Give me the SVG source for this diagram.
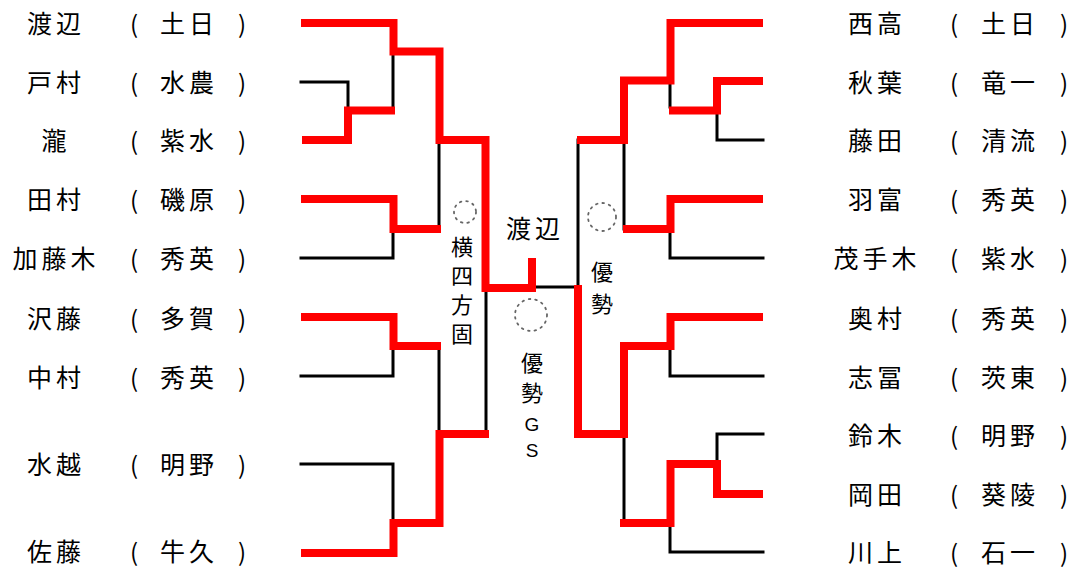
<svg xmlns="http://www.w3.org/2000/svg" width="1077" height="574" viewBox="0 0 1077 574">
<style>
.t{font-family:"Noto Sans CJK JP","Noto Sans",sans-serif;fill:#000;text-anchor:middle;dominant-baseline:central}
.nm{font-size:25px;letter-spacing:4px}
.p{font-size:24px}
.v{font-size:22px}
.v2{font-size:22px}
.lat{font-family:"Liberation Sans",Arial,sans-serif;font-size:19px;fill:#000;text-anchor:middle;dominant-baseline:central}
.r{fill:none;stroke:#ff0000;stroke-width:8;stroke-linejoin:miter;stroke-linecap:butt}
.b{fill:none;stroke:#000;stroke-width:3;stroke-linejoin:miter;stroke-linecap:square}
.c{fill:none;stroke:#333;stroke-width:1.8;stroke-dasharray:1.6 5;stroke-linecap:round;opacity:0.75}
</style>
<rect width="1077" height="574" fill="#fff"/>
<g id="connectors">
<g id="black-lines">
<path class="b" d="M301,82 H348 V110"/>
<path class="b" d="M393,55 V110"/>
<path class="b" d="M301,258 H393 V229"/>
<path class="b" d="M439,144 V229"/>
<path class="b" d="M301,376 H393 V346"/>
<path class="b" d="M301,464 H393 V523"/>
<path class="b" d="M439,346 V434"/>
<path class="b" d="M486,292 V434"/>
<path class="b" d="M536,287 H578 V140"/>
<path class="b" d="M670,84 V107"/>
<path class="b" d="M763,140 H717 V114"/>
<path class="b" d="M624,144 V229"/>
<path class="b" d="M763,258 H670 V233"/>
<path class="b" d="M763,376 H670 V350"/>
<path class="b" d="M763,434 H717 V460"/>
<path class="b" d="M624,438 V523"/>
<path class="b" d="M763,552 H670 V527"/>
</g>
<g id="red-lines">
<path class="r" d="M301,23 H393.5 V51.5 H439.5 V140 H485.5 V288 H532 V258"/>
<path class="r" d="M302,140 H348 V110.5 H395"/>
<path class="r" d="M301,199 H393.5 V229 H441"/>
<path class="r" d="M301,317 H393.5 V346 H441"/>
<path class="r" d="M301,553 H393.5 V523 H439.5 V434 H489"/>
<path class="r" d="M763,23 H670.5 V80.5 H624 V140 H577"/>
<path class="r" d="M763,81 H717 V110.5 H669"/>
<path class="r" d="M763,199 H670.5 V229 H623"/>
<path class="r" d="M763,494 H717 V464 H670.5 V523 H620"/>
<path class="r" d="M763,317 H670.5 V346 H624 V434 H578 V285"/>
</g>
</g>
<g id="left-entries">
<g id="L1"><text class="t nm" x="56" y="22">渡辺</text><text class="t p" x="134" y="22">(</text><text class="t nm" x="189" y="22">土日</text><text class="t p" x="242" y="22">)</text></g>
<g id="L2"><text class="t nm" x="56" y="81">戸村</text><text class="t p" x="134" y="81">(</text><text class="t nm" x="189" y="81">水農</text><text class="t p" x="242" y="81">)</text></g>
<g id="L3"><text class="t nm" x="56" y="139">瀧</text><text class="t p" x="134" y="139">(</text><text class="t nm" x="189" y="139">紫水</text><text class="t p" x="242" y="139">)</text></g>
<g id="L4"><text class="t nm" x="56" y="198">田村</text><text class="t p" x="134" y="198">(</text><text class="t nm" x="189" y="198">磯原</text><text class="t p" x="242" y="198">)</text></g>
<g id="L5"><text class="t nm" x="56" y="257">加藤木</text><text class="t p" x="134" y="257">(</text><text class="t nm" x="189" y="257">秀英</text><text class="t p" x="242" y="257">)</text></g>
<g id="L6"><text class="t nm" x="56" y="317">沢藤</text><text class="t p" x="134" y="317">(</text><text class="t nm" x="189" y="317">多賀</text><text class="t p" x="242" y="317">)</text></g>
<g id="L7"><text class="t nm" x="56" y="376">中村</text><text class="t p" x="134" y="376">(</text><text class="t nm" x="189" y="376">秀英</text><text class="t p" x="242" y="376">)</text></g>
<g id="L8"><text class="t nm" x="56" y="463">水越</text><text class="t p" x="134" y="463">(</text><text class="t nm" x="189" y="463">明野</text><text class="t p" x="242" y="463">)</text></g>
<g id="L9"><text class="t nm" x="56" y="550">佐藤</text><text class="t p" x="134" y="550">(</text><text class="t nm" x="189" y="550">牛久</text><text class="t p" x="242" y="550">)</text></g>
</g>
<g id="right-entries">
<g id="R1"><text class="t nm" x="877" y="22">西高</text><text class="t p" x="954" y="22">(</text><text class="t nm" x="1010" y="22">土日</text><text class="t p" x="1064" y="22">)</text></g>
<g id="R2"><text class="t nm" x="877" y="81">秋葉</text><text class="t p" x="954" y="81">(</text><text class="t nm" x="1010" y="81">竜一</text><text class="t p" x="1064" y="81">)</text></g>
<g id="R3"><text class="t nm" x="877" y="139">藤田</text><text class="t p" x="954" y="139">(</text><text class="t nm" x="1010" y="139">清流</text><text class="t p" x="1064" y="139">)</text></g>
<g id="R4"><text class="t nm" x="877" y="198">羽富</text><text class="t p" x="954" y="198">(</text><text class="t nm" x="1010" y="198">秀英</text><text class="t p" x="1064" y="198">)</text></g>
<g id="R5"><text class="t nm" x="877" y="257">茂手木</text><text class="t p" x="954" y="257">(</text><text class="t nm" x="1010" y="257">紫水</text><text class="t p" x="1064" y="257">)</text></g>
<g id="R6"><text class="t nm" x="877" y="317">奥村</text><text class="t p" x="954" y="317">(</text><text class="t nm" x="1010" y="317">秀英</text><text class="t p" x="1064" y="317">)</text></g>
<g id="R7"><text class="t nm" x="877" y="376">志冨</text><text class="t p" x="954" y="376">(</text><text class="t nm" x="1010" y="376">茨東</text><text class="t p" x="1064" y="376">)</text></g>
<g id="R8"><text class="t nm" x="877" y="434">鈴木</text><text class="t p" x="954" y="434">(</text><text class="t nm" x="1010" y="434">明野</text><text class="t p" x="1064" y="434">)</text></g>
<g id="R9"><text class="t nm" x="877" y="493">岡田</text><text class="t p" x="954" y="493">(</text><text class="t nm" x="1010" y="493">葵陵</text><text class="t p" x="1064" y="493">)</text></g>
<g id="R10"><text class="t nm" x="877" y="551">川上</text><text class="t p" x="954" y="551">(</text><text class="t nm" x="1010" y="551">石一</text><text class="t p" x="1064" y="551">)</text></g>
</g>
<g id="champion"><text class="t nm" x="535" y="227">渡辺</text></g>
<g id="result-left">
<circle class="c" cx="465" cy="212" r="11"/>
<text class="t v" x="462"><tspan x="462" y="245">横</tspan><tspan x="462" y="274">四</tspan><tspan x="462" y="303">方</tspan><tspan x="462" y="332">固</tspan></text>
</g>
<g id="result-right">
<circle class="c" cx="602" cy="217" r="14"/>
<text class="t v2" x="602"><tspan x="602" y="270">優</tspan><tspan x="602" y="302">勢</tspan></text>
</g>
<g id="result-final">
<circle class="c" cx="531" cy="315" r="16"/>
<text class="t v2" x="532"><tspan x="532" y="361">優</tspan><tspan x="532" y="391">勢</tspan></text>
<text class="lat" x="532"><tspan x="532" y="424">G</tspan><tspan x="532" y="450">S</tspan></text>
</g>
</svg>
